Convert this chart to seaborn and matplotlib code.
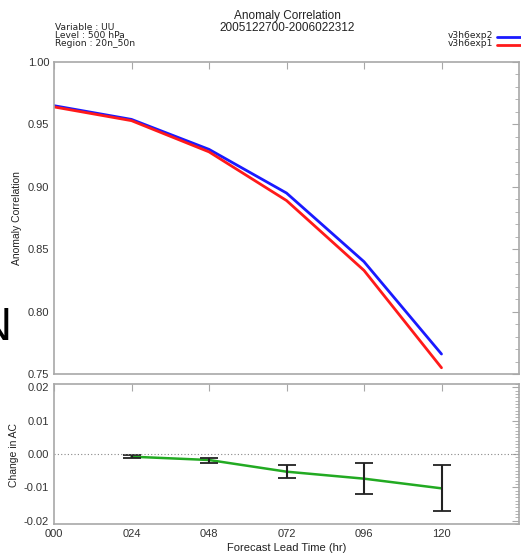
import numpy as np
import pandas as pd
import seaborn as sns
import matplotlib
matplotlib.use("Agg")
import matplotlib.pyplot as plt
from matplotlib.ticker import MultipleLocator

# ---- data ----
lead_hours = [0, 24, 48, 72, 96, 120]
tick_labels = ["000", "024", "048", "072", "096", "120"]
ac_exp2 = [0.965, 0.954, 0.930, 0.895, 0.840, 0.766]
ac_exp1 = [0.964, 0.953, 0.928, 0.889, 0.833, 0.755]
diff_hours = [24, 48, 72, 96, 120]
diff_mean = [-0.0008, -0.0018, -0.0053, -0.0074, -0.0103]
diff_low = [-0.0012, -0.0027, -0.0072, -0.0119, -0.0172]
diff_high = [-0.0003, -0.0011, -0.0032, -0.0027, -0.0034]
series_names = ["v3h6exp2", "v3h6exp1"]
series_colors = ["#1a1aff", "#ff1a1a"]

sns.set_theme(style="white")
plt.rcParams['font.family'] = ['Liberation Sans', 'DejaVu Sans']

W, H = 521, 555
fig = plt.figure(figsize=(W / 100, H / 100), dpi=100)

def px_axes(x0, y0, x1, y1):
    return fig.add_axes([x0 / W, (H - y1) / H, (x1 - x0) / W, (y1 - y0) / H])

ax1 = px_axes(54, 62, 519, 374)
ax2 = px_axes(54, 384, 519, 524)

df = pd.DataFrame({
    "lead": lead_hours * 2,
    "ac": ac_exp2 + ac_exp1,
    "exp": [series_names[0]] * len(lead_hours) + [series_names[1]] * len(lead_hours),
})
sns.lineplot(data=df, x="lead", y="ac", hue="exp", palette=series_colors,
             hue_order=series_names, linewidth=2.0, ax=ax1, legend=False)

dfd = pd.DataFrame({"lead": diff_hours, "d": diff_mean})
sns.lineplot(data=dfd, x="lead", y="d", color="#22aa22", linewidth=1.8, ax=ax2)
yerr = np.array([np.array(diff_mean) - np.array(diff_low),
                 np.array(diff_high) - np.array(diff_mean)])
ax2.errorbar(diff_hours, diff_mean, yerr=yerr, fmt="none", ecolor="#222222",
             elinewidth=1.5, capsize=6.5, capthick=1.3)
ax2.axhline(0, color="#888888", lw=0.8, ls=(0, (1, 2)))

spine_c = "#a8a8a8"
tick_c = "#333333"
for ax in (ax1, ax2):
    ax.set_xlim(0, 144)
    ax.set_xticks(lead_hours)
    for s in ax.spines.values():
        s.set_color(spine_c)
        s.set_linewidth(1.2)
    ax.tick_params(direction="in", which="both", top=True, right=True,
                   color=spine_c, labelcolor=tick_c, labelsize=8)
    ax.tick_params(which="major", length=5, width=0.8)
    ax.tick_params(which="minor", length=3, width=0.6)
    ax.set_xlabel("")
    ax.set_ylabel("")

ax1.set_ylim(0.75, 1.00)
ax1.yaxis.set_major_locator(MultipleLocator(0.05))
ax1.yaxis.set_minor_locator(MultipleLocator(0.01))
ax1.set_yticklabels([f"{v:.2f}" for v in ax1.get_yticks()])
ax1.set_xticklabels([])

ax2.set_ylim(-0.021, 0.021)
ax2.yaxis.set_major_locator(MultipleLocator(0.01))
ax2.yaxis.set_minor_locator(MultipleLocator(0.001))
ax2.set_yticks([-0.02, -0.01, 0.0, 0.01, 0.02])
ax2.set_yticklabels([f"{v:.2f}" for v in [-0.02, -0.01, 0.0, 0.01, 0.02]])
ax2.set_xticklabels(tick_labels)

txt_c = "#222222"
def ftext(x, y, s, **kw):
    fig.text(x / W, 1 - y / H, s, color=kw.pop("color", txt_c), **kw)

small = dict(fontsize=6.6, family=['DejaVu Sans'], va="center")
ftext(287, 16, "Anomaly Correlation", ha="center", va="center", fontsize=8.5)
ftext(287, 28, "2005122700-2006022312", ha="center", va="center", fontsize=8.5)
ftext(55, 27, "Variable : UU", ha="left", **small)
ftext(55, 35.5, "Level : 500 hPa", ha="left", **small)
ftext(55, 44, "Region : 20n_50n", ha="left", **small)
ftext(493, 35.5, series_names[0], ha="right", **small)
ftext(493, 44, series_names[1], ha="right", **small)
for yy, c in ((36.5, series_colors[0]), (45, series_colors[1])):
    fig.add_artist(plt.Line2D([497 / W, 1.0], [1 - yy / H] * 2, color=c, lw=2,
                              transform=fig.transFigure))
ftext(17, 218, "Anomaly Correlation", ha="center", va="center", fontsize=7.5, rotation=90)
ftext(14, 455, "Change in AC", ha="center", va="center", fontsize=7.5, rotation=90)
ftext(287, 548, "Forecast Lead Time (hr)", ha="center", va="center", fontsize=8)
ftext(11, 340, "N", ha="right", va="baseline", fontsize=34, color="black")

fig.savefig("out.png", dpi=100)
